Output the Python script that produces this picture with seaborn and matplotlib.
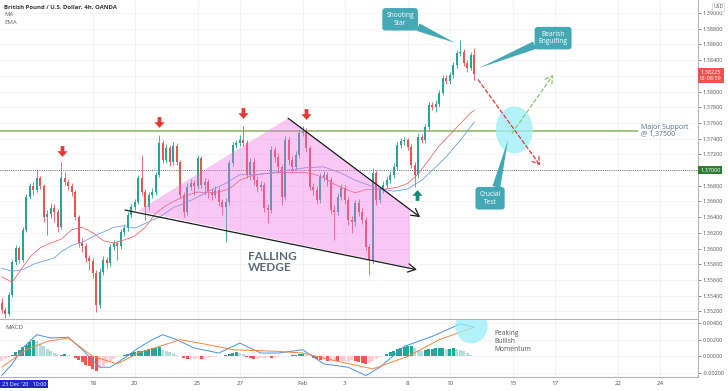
import numpy as np
import pandas as pd
import seaborn as sns
import matplotlib.pyplot as plt
from matplotlib.patches import Polygon, Ellipse
from matplotlib.path import Path
from matplotlib.transforms import blended_transform_factory

# GBP/USD 4h candles, first bar = 11 Jan 2021 16:00, 6 bars per trading day
first_open = 1.3531
closes = [1.3522, 1.3517, 1.3541, 1.3583, 1.3601, 1.3585, 1.3624, 1.3666, 1.3680, 1.3675,
          1.3690, 1.3680, 1.3640, 1.3644, 1.3652, 1.3646, 1.3627, 1.3690, 1.3685, 1.3680,
          1.3672, 1.3640, 1.3607, 1.3603, 1.3588, 1.3584, 1.3569, 1.3528, 1.3570, 1.3585,
          1.3582, 1.3602, 1.3607, 1.3603, 1.3621, 1.3626, 1.3643, 1.3653, 1.3659, 1.3690,
          1.3672, 1.3653, 1.3668, 1.3672, 1.3694, 1.3734, 1.3713, 1.3728, 1.3710, 1.3731,
          1.3710, 1.3668, 1.3646, 1.3678, 1.3683, 1.3680, 1.3715, 1.3681, 1.3685, 1.3672,
          1.3668, 1.3675, 1.3659, 1.3653, 1.3659, 1.3709, 1.3732, 1.3734, 1.3738, 1.3734,
          1.3694, 1.3710, 1.3687, 1.3678, 1.3681, 1.3652, 1.3649, 1.3726, 1.3717, 1.3704,
          1.3666, 1.3738, 1.3713, 1.3704, 1.3719, 1.3747, 1.3750, 1.3728, 1.3678, 1.3675,
          1.3662, 1.3691, 1.3694, 1.3687, 1.3649, 1.3646, 1.3666, 1.3677, 1.3662, 1.3636,
          1.3634, 1.3658, 1.3646, 1.3636, 1.3602, 1.3585, 1.3696, 1.3662, 1.3675, 1.3681,
          1.3687, 1.3694, 1.3704, 1.3732, 1.3737, 1.3738, 1.3729, 1.3706, 1.3694, 1.3742,
          1.3738, 1.3755, 1.3783, 1.3780, 1.3784, 1.3798, 1.3817, 1.3813, 1.3821, 1.3834,
          1.3849, 1.3850, 1.3836, 1.3830, 1.3847, 1.38225]
highs = [1.3537, 1.3525, 1.3545, 1.3585, 1.3604, 1.3603, 1.3627, 1.3669, 1.3683, 1.3685,
         1.3700, 1.3692, 1.3682, 1.3649, 1.3658, 1.3657, 1.3650, 1.3710, 1.3697, 1.3689,
         1.3683, 1.3675, 1.3643, 1.3613, 1.3607, 1.3592, 1.3588, 1.3573, 1.3575, 1.3590,
         1.3589, 1.3606, 1.3611, 1.3610, 1.3625, 1.3631, 1.3646, 1.3657, 1.3663, 1.3694,
         1.3719, 1.3676, 1.3672, 1.3677, 1.3697, 1.3745, 1.3738, 1.3733, 1.3732, 1.3736,
         1.3734, 1.3713, 1.3672, 1.3683, 1.3689, 1.3687, 1.3719, 1.3718, 1.3690, 1.3689,
         1.3677, 1.3680, 1.3678, 1.3663, 1.3664, 1.3713, 1.3736, 1.3738, 1.3745, 1.3756,
         1.3738, 1.3715, 1.3715, 1.3692, 1.3686, 1.3685, 1.3657, 1.3731, 1.3729, 1.3722,
         1.3708, 1.3743, 1.3742, 1.3718, 1.3724, 1.3751, 1.3756, 1.3754, 1.3731, 1.3683,
         1.3680, 1.3696, 1.3699, 1.3697, 1.3691, 1.3655, 1.3671, 1.3682, 1.3681, 1.3666,
         1.3641, 1.3662, 1.3663, 1.3652, 1.3640, 1.3606, 1.3703, 1.3700, 1.3680, 1.3686,
         1.3692, 1.3699, 1.3709, 1.3736, 1.3741, 1.3742, 1.3741, 1.3733, 1.3710, 1.3747,
         1.3746, 1.3759, 1.3787, 1.3787, 1.3789, 1.3802, 1.3821, 1.3821, 1.3825, 1.3838,
         1.3853, 1.3866, 1.3854, 1.3840, 1.3850, 1.3855]
lows = [1.3518, 1.3511, 1.3514, 1.3538, 1.3579, 1.3582, 1.3583, 1.3621, 1.3663, 1.3668,
        1.3672, 1.3676, 1.3634, 1.3617, 1.3639, 1.3634, 1.3621, 1.3625, 1.3681, 1.3675,
        1.3667, 1.3636, 1.3602, 1.3596, 1.3583, 1.3573, 1.3562, 1.3519, 1.3524, 1.3566,
        1.3575, 1.3578, 1.3598, 1.3585, 1.3599, 1.3616, 1.3622, 1.3639, 1.3649, 1.3657,
        1.3668, 1.3636, 1.3649, 1.3664, 1.3668, 1.3691, 1.3709, 1.3709, 1.3705, 1.3706,
        1.3706, 1.3664, 1.3640, 1.3643, 1.3675, 1.3668, 1.3676, 1.3677, 1.3668, 1.3664,
        1.3662, 1.3664, 1.3654, 1.3643, 1.3608, 1.3655, 1.3705, 1.3728, 1.3731, 1.3731,
        1.3690, 1.3687, 1.3681, 1.3672, 1.3675, 1.3646, 1.3632, 1.3645, 1.3710, 1.3697,
        1.3655, 1.3662, 1.3706, 1.3697, 1.3700, 1.3715, 1.3743, 1.3723, 1.3675, 1.3668,
        1.3657, 1.3658, 1.3686, 1.3680, 1.3644, 1.3611, 1.3643, 1.3662, 1.3657, 1.3630,
        1.3620, 1.3629, 1.3641, 1.3631, 1.3598, 1.3566, 1.3582, 1.3655, 1.3658, 1.3671,
        1.3677, 1.3683, 1.3690, 1.3700, 1.3728, 1.3732, 1.3726, 1.3703, 1.3678, 1.3690,
        1.3734, 1.3734, 1.3751, 1.3776, 1.3774, 1.3780, 1.3796, 1.3810, 1.3810, 1.3817,
        1.3830, 1.3845, 1.3832, 1.3825, 1.3827, 1.3815]

# moving averages (bar index, price)
ma_bars = [0, 3, 5, 8, 11, 14, 17, 20, 23, 26, 29, 32, 35, 38, 41, 44, 47, 50, 53, 56,
           59, 62, 65, 68, 71, 74, 77, 80, 83, 86, 89, 92, 95, 98, 101, 104, 107, 110, 113, 116,
           119, 122, 125, 128, 131, 134, 135]
ma_vals = [1.3564, 1.3557, 1.3570, 1.3589, 1.3601, 1.3607, 1.3612, 1.3624, 1.3627, 1.3620,
           1.3610, 1.3607, 1.3611, 1.3616, 1.3627, 1.3645, 1.3655, 1.3662, 1.3668, 1.3672,
           1.3671, 1.3672, 1.3676, 1.3687, 1.3692, 1.3695, 1.3696, 1.3697, 1.3697, 1.3697,
           1.3695, 1.3690, 1.3682, 1.3676, 1.3671, 1.3675, 1.3675, 1.3676, 1.3678, 1.3683,
           1.3695, 1.3713, 1.3731, 1.3745, 1.3759, 1.3773, 1.3776]
ema_bars = [0, 3, 6, 9, 12, 15, 17, 20, 23, 26, 29, 32, 35, 38, 41, 45, 49, 53, 57, 60,
            64, 68, 73, 78, 82, 87, 92, 97, 101, 104, 108, 112, 116, 120, 124, 127, 131, 135]
ema_vals = [1.3575, 1.3571, 1.3573, 1.3580, 1.3584, 1.3588, 1.3596, 1.3604, 1.3608, 1.3615,
            1.3621, 1.3627, 1.3629, 1.3626, 1.3632, 1.3640, 1.3652, 1.3659, 1.3668, 1.3675,
            1.3683, 1.3694, 1.3694, 1.3697, 1.3700, 1.3703, 1.3704, 1.3696, 1.3687, 1.3682,
            1.3676, 1.3673, 1.3676, 1.3687, 1.3704, 1.3717, 1.3738, 1.3761]

# MACD pane, values in units of 1e-4
macd_bars = [0, 3, 6, 10, 14, 19, 23, 28, 31, 35, 39, 43, 46, 50, 55, 62, 68, 74, 79, 86,
             92, 99, 104, 108, 115, 123, 131, 135]
macd_vals = [-23, -9, 10, 26, 22, 23, 8, -13, -13, -2, 10, 20, 26, 20, 10, 4, 16, 4, 4, 8,
             -9, -13, -23, -13, 12, 24, 39, 35]
signal_bars = [0, 7, 13, 19, 26, 33, 39, 51, 59, 66, 79, 86, 95, 106, 116, 125, 135]
signal_vals = [-13, 8, 18, 22, 0, -9, 4, 20, 14, 8, 6, 4, -5, -15, 0, 20, 35]
hist_vals = [-5, -3, -1, 2, 5, 8, 11, 14, 17, 20,
             18, 15, 12, 9, 6, 4, 2, 2, 3, 2,
             1, -2, -4, -7, -10, -12, -15, -17, -14, -11,
             -8, -5, -3, -1, 1, 2, 3, 4, 5, 6,
             7, 8, 9, 10, 10, 11, 8, 7, 5, 4,
             2, 1, -2, -3, -3, -3, -2, -3, -3, -2,
             -1, -1, 0, 1, 2, 3, 4, 5, 4, 3,
             -1, -2, -3, -3, -2, -2, -1, -2, -2, -1,
             0, 1, 1, 2, 2, 3, 3, 2, 1, -2,
             -3, -4, -4, -5, -5, -5, -6, -6, -5, -5,
             -4, -6, -7, -8, -9, -8, -5, -3, -1, 1,
             3, 5, 7, 9, 10, 11, 12, 12, 10, 8,
             7, 8, 9, 9, 10, 10, 10, 9, 9, 10,
             9, 8, 6, 4, 2, 1]

# time axis
first_day = '2021-01-11'
bars_first_day = 2
tick_days = ['2021-01-18', '2021-01-20', '2021-01-25', '2021-01-27', '2021-02-01', '2021-02-03',
             '2021-02-08', '2021-02-10', '2021-02-15', '2021-02-17', '2021-02-22', '2021-02-24']
tick_names = ['18', '20', '25', '27', 'Feb', '3', '8', '10', '15', '17', '22', '24']

# levels and drawings (bar index, price)
support = 1.375
round_level = 1.37
last_price = 1.38225
countdown = '01:08:59'
sell_x = [17.2, 44.9, 68.9, 86.9]
sell_y = [1.3724, 1.3761, 1.3773, 1.3771]
buy_x = [118.6]
buy_y = [1.3668]
wedge_upper = [(81.8, 1.3766), (119.5, 1.3640)]
wedge_lower = [(35.2, 1.3649), (118.6, 1.3573)]
wedge_area = [(38.9, 1.3648), (81.8, 1.3766), (116.6, 1.3650), (116.6, 1.3576)]
bear_path = [(136.1, 1.3815), (153.8, 1.3706)]
bull_path = [(145.8, 1.3747), (157.5, 1.3821)]
test_zone = (146.4, 1.3751)
macd_zone = (134.2, 0.00365)

sns.set_theme(style='white')
plt.rcParams['font.family'] = ['Open Sans', 'DejaVu Sans']

fig = plt.figure(figsize=(7.28, 3.91), dpi=100)
W, H = 728, 391
ax = fig.add_axes([0, 1 - 319 / H, 698 / W, 319 / H])
axm = fig.add_axes([0, 1 - 377 / H, 698 / W, 57 / H], sharex=ax)

days = pd.bdate_range(first_day, periods=35)
day_pos = {d: 6 * k - (6 - bars_first_day) for k, d in enumerate(days)}
tick_pos = [day_pos[pd.Timestamp(d)] for d in tick_days]

x = np.arange(len(closes))
c = np.array(closes)
o = np.array([first_open] + closes[:-1])
col = np.where(c >= o, '#26a69a', '#ef5350')

# candles
ax.vlines(x, lows, highs, colors=col, lw=0.6, zorder=3)
ax.bar(x, np.maximum(np.abs(c - o), 0.00004), bottom=np.minimum(o, c), width=0.62,
       color=col, zorder=3, linewidth=0)
sns.lineplot(x=ma_bars, y=ma_vals, ax=ax, color='#f26b6b', lw=0.6, zorder=4)
sns.lineplot(x=ema_bars, y=ema_vals, ax=ax, color='#6d9eeb', lw=0.6, zorder=4)

# levels
ax.axhline(round_level, color='#444', lw=0.6, ls=(0, (1, 1.6)), zorder=2)
ax.hlines(support, -0.5, 181.8, color='#93bb6a', lw=1.2, zorder=2)
ax.text(182.6, support, 'Major Support\n@ 1,37500', fontsize=5, color='#5d6b7b',
        ha='left', va='center', linespacing=1.1)

# falling wedge
ax.add_patch(Polygon(wedge_area, closed=True, fc='#f06ee0', alpha=0.38, ec='none', zorder=5))
for seg in (wedge_upper, wedge_lower):
    ax.annotate('', xy=seg[1], xytext=seg[0], zorder=6,
                arrowprops=dict(arrowstyle='->,head_width=0.25,head_length=0.45', color='#1b1b1b',
                                lw=0.9, shrinkA=0, shrinkB=0))
ax.text(70.4, 1.3583, 'FALLING\nWEDGE', fontsize=8.5, color='#5f6a78', fontweight='bold',
        family=['Lato', 'DejaVu Sans'], ha='left', va='center', linespacing=1.05, zorder=7)

# signal arrows
dn = Path([(-0.35, 1), (0.35, 1), (0.35, 0.05), (0.95, 0.05), (0, -1), (-0.95, 0.05),
           (-0.35, 0.05), (-0.35, 1)], closed=True)
up = Path([(px, -py) for px, py in dn.vertices], closed=True)
ax.scatter(sell_x, sell_y, marker=dn, s=60, color='#e53935', linewidths=0, zorder=7)
ax.scatter(buy_x, buy_y, marker=up, s=60, color='#138a72', linewidths=0, zorder=7)

# crucial test zone and scenarios
ax.add_patch(Ellipse(test_zone, width=10.6, height=0.0060, fc='#9beef7', alpha=0.75, ec='none', zorder=4))
ax.annotate('', xy=bear_path[1], xytext=bear_path[0], zorder=6,
            arrowprops=dict(arrowstyle='->,head_width=0.25,head_length=0.4', color='#e53935', lw=0.9,
                            linestyle=(0, (3, 2)), shrinkA=0, shrinkB=0))
ax.annotate('', xy=bull_path[1], xytext=bull_path[0], zorder=6,
            arrowprops=dict(arrowstyle='->,head_width=0.25,head_length=0.4', color='#8fc46a', lw=0.9,
                            linestyle=(0, (3, 2)), shrinkA=0, shrinkB=0))

teal = '#45a9b5'


def callout(axis, text, box, tip, rel):
    axis.annotate(text, xy=tip, xytext=box, ha='center', va='center', fontsize=4.8, color='white',
                  linespacing=1.1, zorder=8,
                  bbox=dict(boxstyle='round,pad=0.6,rounding_size=0.5', fc=teal, ec='none'),
                  arrowprops=dict(arrowstyle='wedge,tail_width=1.2,shrink_factor=0.5', fc=teal,
                                  ec='none', relpos=rel, shrinkA=0, shrinkB=0))


callout(ax, 'Shooting\nStar', (113.8, 1.3892), (129.5, 1.3862), (0.85, 0.2))
callout(ax, 'Bearish\nEngulfing', (157.5, 1.3868), (136.4, 1.3830), (0.15, 0.25))
callout(ax, 'Crucial\nTest', (139.5, 1.3664), (144.6, 1.3738), (0.75, 1.0))

# MACD pane
h = np.array(hist_vals) * 1e-4
prev = np.r_[h[0], h[:-1]]
hcol = np.where(h >= 0, np.where(h >= prev, '#26a69a', '#b2dfdb'),
                np.where(h < prev, '#ff5252', '#ffcdd2'))
axm.bar(x, h, width=0.78, color=hcol, linewidth=0, zorder=2)
sns.lineplot(x=macd_bars, y=np.array(macd_vals) * 1e-4, ax=axm, color='#4a90e2', lw=0.7, zorder=3)
sns.lineplot(x=signal_bars, y=np.array(signal_vals) * 1e-4, ax=axm, color='#f7853b', lw=0.7, zorder=3)
axm.add_patch(Ellipse(macd_zone, width=9.2, height=0.0042, fc='#9beef7', alpha=0.75, ec='none', zorder=4))
axm.text(140.6, 0.00176, 'Peaking\nBullish\nMomentum', fontsize=4.8, color='#555',
         ha='left', va='center', linespacing=1.15)
axm.text(0.007, 0.86, 'MACD', transform=axm.transAxes, fontsize=4.5, color='#555', va='center')

# axes styling; the scale labels hidden behind the price tags are left blank
price_ticks = np.round(np.arange(1.352, 1.3901, 0.002), 3)
tagged = (round_level, round(last_price, 3))
ax.set_xlim(-0.5, 198.9)
ax.set_ylim(1.35102, 1.39166)
axm.set_ylim(-0.00247, 0.00436)
ax.set_yticks(price_ticks)
ax.set_yticklabels(['' if p in tagged else f'{p:.5f}' for p in price_ticks])
axm.set_yticks([-0.002, 0.0, 0.002, 0.004])
axm.set_yticklabels(['-0.00200', '0.00000', '0.00200', '0.00400'])
axm.set_xticks(tick_pos)
axm.set_xticklabels(tick_names)
for a in (ax, axm):
    a.set_facecolor('white')
    a.set_xlabel('')
    a.set_ylabel('')
    a.yaxis.tick_right()
    a.spines['top'].set_visible(False)
    a.spines['left'].set_visible(False)
    for s in ('right', 'bottom'):
        a.spines[s].set_color('#b2b5be')
        a.spines[s].set_linewidth(0.8)
    a.grid(True, color='#eef0f4', lw=0.5, zorder=0)
    a.set_axisbelow(True)
    a.tick_params(axis='y', labelsize=4, colors='#555', length=2, width=0.5, pad=1.5)
ax.tick_params(axis='x', bottom=False, labelbottom=False)
axm.tick_params(axis='x', labelsize=4.5, colors='#555', length=0, pad=3)

# price tags on the scale
tr = blended_transform_factory(ax.transAxes, ax.transData)
ax.text(1.003, round_level, '1.37000', transform=tr, fontsize=4, color='white', ha='left', va='center',
        bbox=dict(boxstyle='square,pad=0.35', fc='#2e7d32', ec='none'), clip_on=False, zorder=10)
ax.annotate(f'{last_price:.5f}\n{countdown}', xy=(1.003, last_price), xycoords=tr, xytext=(0, 3),
            textcoords='offset points', fontsize=4, color='white', ha='left', va='top',
            linespacing=1.3, annotation_clip=False, zorder=10,
            bbox=dict(boxstyle='square,pad=0.35', fc='#ef5350', ec='none'))

# header and footer texts
fig.text(4 / W, 1 - 7 / H, 'British Pound / U.S. Dollar, 4h, OANDA', fontsize=4.3,
         fontweight='bold', color='#333', va='center')
fig.text(4 / W, 1 - 15 / H, 'MA', fontsize=4.3, color='#666', va='center')
fig.text(4 / W, 1 - 23 / H, 'EMA', fontsize=4.3, color='#666', va='center')
fig.text(713 / W, 1 - 7 / H, 'USD', fontsize=3.6, color='#555', va='center',
         bbox=dict(boxstyle='square,pad=0.25', fc='white', ec='#cfd2d8', lw=0.5))
fig.text(2 / W, 1 - 384 / H, "23 Dec '20   10:00", fontsize=4, color='white', va='center',
         bbox=dict(boxstyle='square,pad=0.35', fc='#1f27c9', ec='none'))

fig.savefig('out.png', dpi=100)
